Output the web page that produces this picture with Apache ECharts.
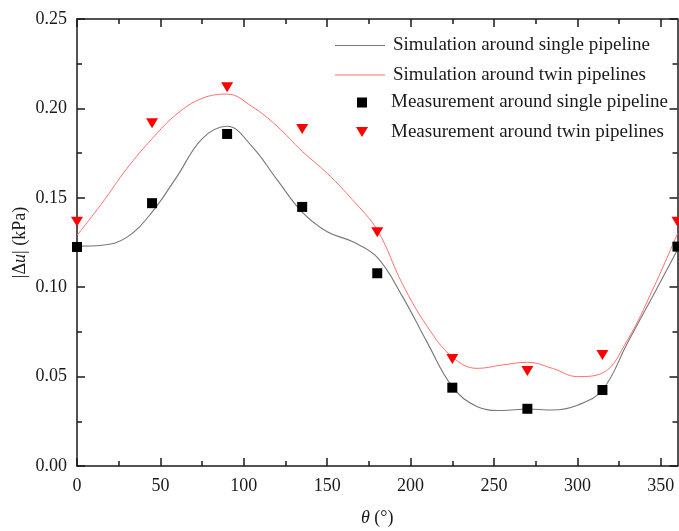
<!DOCTYPE html>
<html>
<head>
<meta charset="utf-8">
<script src="https://cdn.jsdelivr.net/npm/echarts@6/dist/echarts.min.js"></script>
<style>html,body{margin:0;padding:0;background:#fff;}#c{width:679px;height:531px;}</style>
</head>
<body>
<div id="c"></div>
<script>
// Simulation curves (theta in degrees)
var thetaSim = [0,15,30,45,60,75,90,105,120,135,150,165,180,195,210,225,240,255,270,285,300,315,330,345,360];
var simSingle = [0.123,0.1235,0.128,0.142,0.162,0.183,0.190,0.1786,0.160,0.142,0.131,0.1255,0.1167,0.095,0.069,0.0444,0.0332,0.031,0.0319,0.0313,0.034,0.0425,0.0688,0.0947,0.121];
var simTwin = [0.129,0.147,0.1665,0.183,0.197,0.2056,0.208,0.201,0.190,0.176,0.1637,0.149,0.132,0.102,0.078,0.061,0.0546,0.0565,0.058,0.0546,0.050,0.052,0.0705,0.0984,0.130];
// Measurements
var thetaMeas = [0,45,90,135,180,225,270,315,360];
var measSingle = [0.1225,0.147,0.1857,0.1449,0.1078,0.0438,0.032,0.0425,0.1227];
var measTwin = [0.1366,0.1917,0.2118,0.1885,0.1307,0.0598,0.0531,0.0621,0.1366];
// Axis ticks
var xMajor = [0,50,100,150,200,250,300,350];
var xMinor = [25,75,125,175,225,275,325];
var names = ['Simulation around single pipeline','Simulation around twin pipelines','Measurement around single pipeline','Measurement around twin pipelines'];

function pairs(xs, ys){ return xs.map(function(x,i){ return [x, ys[i]]; }); }

var FONT = '"Liberation Serif","Times New Roman",serif';
var axisColor = '#1a1a1a';
// tiny corner marks keep the icon's bounding box fixed so the shape is not stretched
var BOX = 'M0,0 L0.01,0 L0,0.01 Z M50,18 L49.99,18 L50,17.99 Z ';
var lineIcon = 'path://' + BOX + 'M0,8.5 L50,8.5 L50,9.5 L0,9.5 Z';
var BOX2 = 'M0,0 L0.01,0 L0,0.01 Z M12,18 L11.99,18 L12,17.99 Z ';
var squareIcon = 'path://' + BOX2 + 'M1,4 L11,4 L11,14 L1,14 Z';
var triIcon = 'path://' + BOX2 + 'M0,4 L12,4 L6,14 Z';

function xAx(pos, ticks, len, showLine, showLabel, extra){
  var o = {
    type:'value', position:pos, min:0, max:360, interval:50,
    axisLine:{show:showLine, onZero:false, lineStyle:{color:axisColor, width:1.5}},
    axisTick:{show:true, inside:true, length:len, customValues:ticks, lineStyle:{color:axisColor, width:1.5}},
    axisLabel:{show:showLabel, color:'#1a1a1a', fontFamily:FONT, fontSize:18, margin:11,
      formatter:function(v){ return (Math.round(v) % 50 === 0 && Math.round(v) <= 350) ? String(Math.round(v)) : ' '; }},
    splitLine:{show:false}
  };
  for (var k in extra) o[k]=extra[k];
  return o;
}
function yAx(pos, len, showLine, showLabel, extra){
  var o = {
    type:'value', position:pos, min:0, max:0.25, interval:0.05,
    axisLine:{show:showLine, onZero:false, lineStyle:{color:axisColor, width:1.5}},
    axisTick:{show:true, inside:true, length:len, lineStyle:{color:axisColor, width:1.5}},
    minorTick:{show:true, splitNumber:2, length:5, lineStyle:{color:axisColor, width:1.5}},
    axisLabel:{show:showLabel, color:'#1a1a1a', fontFamily:FONT, fontSize:18, margin:10,
      formatter:function(v){return v.toFixed(2);}},
    splitLine:{show:false}
  };
  for (var k in extra) o[k]=extra[k];
  return o;
}

var chart = echarts.init(document.getElementById('c'), null, {renderer:'canvas'});
chart.setOption({
  backgroundColor:'#fff',
  animation:false,
  grid: {left:77, right:1.5, top:19, bottom:65, containLabel:false, outerBoundsMode:'none'},
  xAxis:[
    xAx('bottom', xMajor, 8, true, true, {
      name:'{i|θ} (°)', nameLocation:'middle', nameGap:43, nameMoveOverlap:false,
      nameTextStyle:{color:'#1a1a1a', fontFamily:FONT, fontSize:18,
        rich:{i:{fontStyle:'italic', fontFamily:FONT, fontSize:18, color:'#1a1a1a'}}}
    }),
    xAx('top', xMajor, 8, true, false, {}),
    xAx('bottom', xMinor, 5, false, false, {}),
    xAx('top', xMinor, 5, false, false, {})
  ],
  yAxis:[
    yAx('left', 8, true, true, {
      name:'|Δ{i|u}| (kPa)', nameLocation:'middle', nameGap:48, nameRotate:90, nameMoveOverlap:false,
      nameTextStyle:{color:'#1a1a1a', fontFamily:FONT, fontSize:18,
        rich:{i:{fontStyle:'italic', fontFamily:FONT, fontSize:18, color:'#1a1a1a'}}}
    }),
    yAx('right', 8, true, false, {})
  ],
  legend:[
    {
      data:[{name:names[0], icon:lineIcon}, {name:names[1], icon:lineIcon}],
      orient:'vertical', left:335, top:36, padding:0,
      itemWidth:50, itemHeight:18, itemGap:10.5,
      textStyle:{fontFamily:FONT, fontSize:19, color:'#1a1a1a', lineHeight:18, padding:[0,0,0,3]}
    },
    {
      data:[{name:names[2], icon:squareIcon}, {name:names[3], icon:triIcon}],
      orient:'vertical', left:356, top:93, padding:0,
      itemWidth:12, itemHeight:18, itemGap:10.5,
      textStyle:{fontFamily:FONT, fontSize:19, color:'#1a1a1a', lineHeight:18, padding:[0,0,0,18]}
    }
  ],
  series:[
    {name:names[0], type:'line', data:pairs(thetaSim, simSingle), smooth:0.4, symbol:'none',
      lineStyle:{color:'#777777', width:1.1}, itemStyle:{color:'#777777'}, z:2},
    {name:names[1], type:'line', data:pairs(thetaSim, simTwin), smooth:0.4, symbol:'none',
      lineStyle:{color:'#ff7070', width:1}, itemStyle:{color:'#ff7070'}, z:2},
    {name:names[2], type:'scatter', data:pairs(thetaMeas, measSingle), symbol:'rect', symbolSize:10,
      itemStyle:{color:'#000', opacity:1}, z:3},
    {name:names[3], type:'scatter', data:pairs(thetaMeas, measTwin), symbol:'path://M0,0 L12,0 L6,10 Z', symbolSize:[12,10],
      itemStyle:{color:'#ff0000', opacity:1}, z:3}
  ]
});
</script>
</body>
</html>
